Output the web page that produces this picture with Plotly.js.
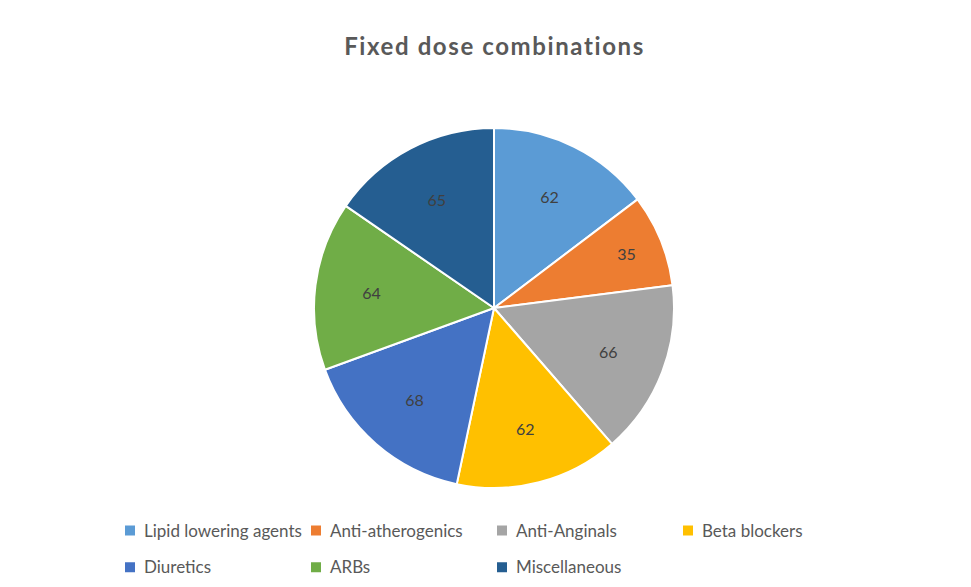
<!DOCTYPE html>
<html>
<head>
<meta charset="utf-8">
<script src="https://cdn.plot.ly/plotly-3.0.1.min.js"></script>
<style>html,body{margin:0;padding:0;background:#fff;}#chart{width:971px;height:587px;}
.gtitle{letter-spacing:1.6px;}
.legend .legendtext{font-size:17px !important; transform:translate(-6px,-4px);}</style>
</head>
<body>
<div id="chart"></div>
<script>
const categories = ["Lipid lowering agents", "Anti-atherogenics", "Anti-Anginals", "Beta blockers", "Diuretics", "ARBs", "Miscellaneous"];
const values = [62, 35, 66, 62, 68, 64, 65];
const colors = ["#5B9BD5", "#ED7D31", "#A5A5A5", "#FFC000", "#4472C4", "#70AD47", "#255E91"];

const plotW = 771; // width of plot area (971 - right margin 200)

const trace = {
  type: "pie",
  labels: categories,
  values: values,
  sort: false,
  direction: "clockwise",
  rotation: 0,
  marker: {colors: colors, line: {color: "#ffffff", width: 2}},
  textinfo: "value",
  textposition: "inside",
  insidetextorientation: "horizontal",
  textfont: {family: "Lato, 'Open Sans', sans-serif", size: 16, color: "#404040"},
  domain: {x: [314/plotW, 674/plotW], y: [99/587, 459/587]},
  hoverinfo: "label+value"
};

const layout = {
  width: 971, height: 587,
  margin: {l: 0, r: 971 - plotW, t: 0, b: 0, autoexpand: false},
  paper_bgcolor: "#ffffff",
  font: {family: "Lato, 'Open Sans', sans-serif", color: "#595959"},
  title: {text: "<b>Fixed dose combinations</b>", font: {family: "Lato, 'Open Sans', sans-serif", size: 24, color: "#595959"}, xref: "container", x: 0.5 + 9/971, xanchor: "center", y: 1 - 47/587, yanchor: "middle"},
  showlegend: true,
  legend: {
    orientation: "h",
    x: 110/plotW, xanchor: "left",
    y: 1 - 507/587, yanchor: "top",
    entrywidth: 141, entrywidthmode: "pixels",
    font: {family: "Lato, 'Open Sans', sans-serif", size: 26, color: "#595959"},
    itemwidth: 30
  }
};

Plotly.newPlot("chart", [trace], layout, {displayModeBar: false, staticPlot: true});
</script>
</body>
</html>
